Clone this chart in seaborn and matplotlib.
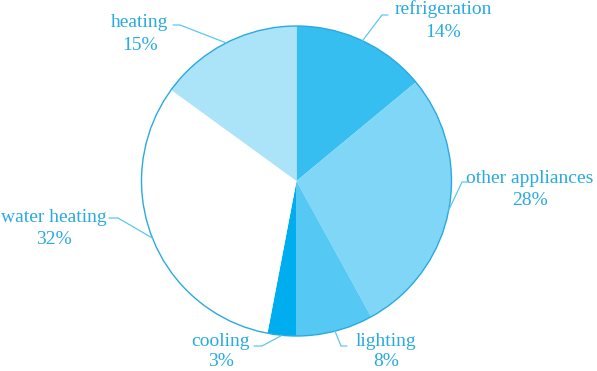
import numpy as np
import matplotlib
matplotlib.use("Agg")
import matplotlib.pyplot as plt
import seaborn as sns
from matplotlib.patches import Circle

categories = ["refrigeration", "other appliances", "lighting", "cooling", "water heating", "heating"]
shares = [14, 28, 8, 3, 32, 15]
pct_labels = ["14%", "28%", "8%", "3%", "32%", "15%"]
colors = ["#36BEF1", "#80D6F6", "#55C9F3", "#00ADEE", "#FFFFFF", "#ABE3F9"]

sns.set_theme(style="white")
plt.rcParams['font.family'] = ['Liberation Serif', 'DejaVu Serif']

W, H = 597, 371
fig = plt.figure(figsize=(W / 100, H / 100), dpi=100)
ax = fig.add_axes([0, 0, 1, 1])

cx, cy, r = 296.5, H - 181, 155
wedges, _ = ax.pie(shares, colors=colors, startangle=90, counterclock=False,
                   center=(cx, cy), radius=r, frame=True,
                   wedgeprops=dict(linewidth=0))
ax.set_xlim(0, W)
ax.set_ylim(0, H)
ax.set_aspect('equal')
ax.axis('off')
ax.add_patch(Circle((cx, cy), r, fill=False, edgecolor="#2AAAE0", linewidth=1.0))

text_color = "#29AAE1"
line_color = "#5EC6F0"
fs = 14

# layout: label centre x, name baseline y (from top), pct baseline y,
#         leader start x, leader elbow x, leader y
layout = {
    "refrigeration":    (443, 14, 37, 388, 382, 15),
    "other appliances": (530, 183, 205, 468, 462, 182),
    "lighting":         (386, 346, 366, 347, 341, 346),
    "cooling":          (221, 346, 366, 254, 262, 346),
    "water heating":    (54, 222, 244, 109, 118, 218),
    "heating":          (140, 27, 50, 173, 180, 25),
}

for w, name, pct in zip(wedges, categories, pct_labels):
    lx, b1, b2, sx, ex, yl = layout[name]
    ax.text(lx, H - b1, name, ha='center', va='baseline', fontsize=fs, color=text_color)
    ax.text(lx, H - b2, pct, ha='center', va='baseline', fontsize=fs, color=text_color)
    mid = np.deg2rad((w.theta1 + w.theta2) / 2)
    px, py = cx + r * np.cos(mid), cy + r * np.sin(mid)
    ax.plot([sx, ex, px], [H - yl, H - yl, py], color=line_color, linewidth=0.9,
            solid_joinstyle='miter')

fig.savefig("out.png", dpi=100)
